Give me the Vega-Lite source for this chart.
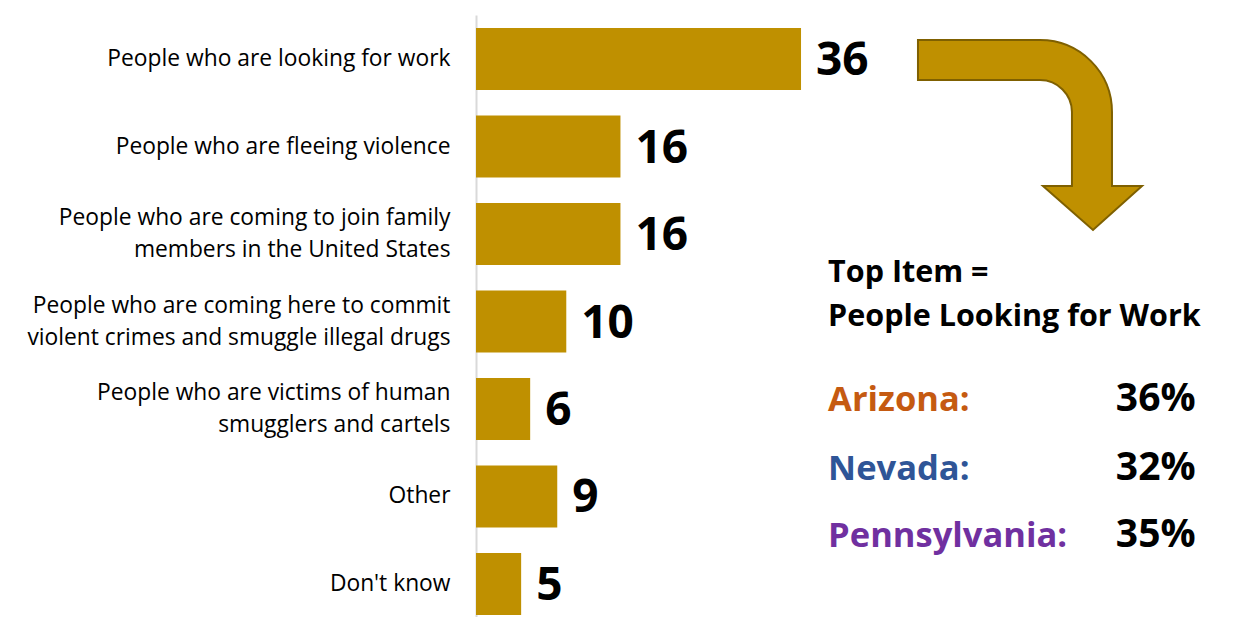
{
  "$schema": "https://vega.github.io/schema/vega-lite/v6.json",
  "width": 762,
  "height": 613,
  "autosize": {"type": "none"},
  "padding": {"left": 476, "top": 15, "right": 0, "bottom": 0},
  "background": "white",
  "config": {"view": {"stroke": null}, "font": "Open Sans"},
  "datasets": {
    "bars": [
      {"item": "People who are looking for work", "pct": 36},
      {"item": "People who are fleeing violence", "pct": 16},
      {"item": "People who are coming to join family|members in the United States", "pct": 16},
      {"item": "People who are coming here to commit|violent crimes and smuggle illegal drugs", "pct": 10},
      {"item": "People who are victims of human|smugglers and cartels", "pct": 6},
      {"item": "Other", "pct": 9},
      {"item": "Don't know", "pct": 5}
    ],
    "states": [
      {"state": "Arizona:", "share": "36%", "y": 64.6},
      {"state": "Nevada:", "share": "32%", "y": 75.9},
      {"state": "Pennsylvania:", "share": "35%", "y": 86.8}
    ],
    "titles": [
      {"text": "Top Item =", "y": 43.5},
      {"text": "People Looking for Work", "y": 50.8}
    ],
    "arrow": [{"name": "top item arrow"}]
  },
  "layer": [
    {
      "data": {"name": "bars"},
      "encoding": {
        "y": {
          "field": "item", "type": "nominal", "sort": null,
          "scale": {"paddingInner": 0.2914, "paddingOuter": 0.1486},
          "axis": {
            "title": null, "ticks": false, "labelPadding": 26,
            "labelFont": "Open Sans", "labelFontSize": 22.8, "labelColor": "#000000",
            "labelLimit": 600, "labelExpr": "split(datum.label, '|')", "labelLineHeight": 32,
            "labelOffset": {"condition": {"test": "indexof(datum.value, '|') >= 0", "value": -16}, "value": 0},
            "domainColor": "#d9d9d9", "domainWidth": 2, "grid": false
          }
        },
        "x": {"field": "pct", "type": "quantitative", "scale": {"domain": [0, 84.4], "nice": false}, "axis": null}
      },
      "layer": [
        {"mark": {"type": "bar", "color": "#bf9000"}},
        {
          "mark": {"type": "text", "align": "left", "baseline": "middle", "dx": 15, "dy": 2, "font": "Open Sans", "fontWeight": "bold", "fontSize": 46, "color": "#000000"},
          "encoding": {"text": {"field": "pct"}}
        }
      ]
    },
    {
      "layer": [
        {
          "data": {"name": "arrow"},
          "mark": {
            "type": "point", "filled": true, "opacity": 1, "size": 52900,
            "shape": "M-0.974,-0.826 L0.087,-0.826 C0.433,-0.826 0.713,-0.546 0.713,-0.2 L0.713,0.443 L0.974,0.443 L0.548,0.826 L0.113,0.443 L0.365,0.443 L0.365,-0.2 C0.365,-0.353 0.240,-0.478 0.087,-0.478 L-0.974,-0.478 Z",
            "fill": "#bf9000", "stroke": "#7f6000", "strokeWidth": 2
          },
          "encoding": {
            "x": {"datum": 61.36, "type": "quantitative"},
            "y": {"datum": 19.58, "type": "quantitative", "scale": {"domain": [0, 100], "reverse": true}, "axis": null}
          }
        },
        {
          "data": {"name": "titles"},
          "mark": {"type": "text", "align": "left", "baseline": "alphabetic", "font": "Open Sans", "fontWeight": "bold", "fontSize": 30.5, "color": "#000000"},
          "encoding": {
            "x": {"datum": 39.0, "type": "quantitative"},
            "y": {"field": "y", "type": "quantitative", "scale": {"domain": [0, 100], "reverse": true}, "axis": null},
            "text": {"field": "text"}
          }
        },
        {
          "data": {"name": "states"},
          "mark": {"type": "text", "align": "left", "baseline": "alphabetic", "font": "Open Sans", "fontWeight": "bold", "fontSize": 34.5},
          "encoding": {
            "x": {"datum": 39.0, "type": "quantitative"},
            "y": {"field": "y", "type": "quantitative", "scale": {"domain": [0, 100], "reverse": true}, "axis": null},
            "text": {"field": "state"},
            "color": {"field": "state", "type": "nominal", "scale": {"domain": ["Arizona:", "Nevada:", "Pennsylvania:"], "range": ["#c55a11", "#2f5597", "#7030a0"]}, "legend": null}
          }
        },
        {
          "data": {"name": "states"},
          "mark": {"type": "text", "align": "right", "baseline": "alphabetic", "font": "Open Sans", "fontWeight": "bold", "fontSize": 39, "color": "#000000"},
          "encoding": {
            "x": {"datum": 79.7, "type": "quantitative"},
            "y": {"field": "y", "type": "quantitative", "scale": {"domain": [0, 100], "reverse": true}, "axis": null},
            "text": {"field": "share"}
          }
        }
      ]
    }
  ],
  "resolve": {"scale": {"y": "independent"}}
}
